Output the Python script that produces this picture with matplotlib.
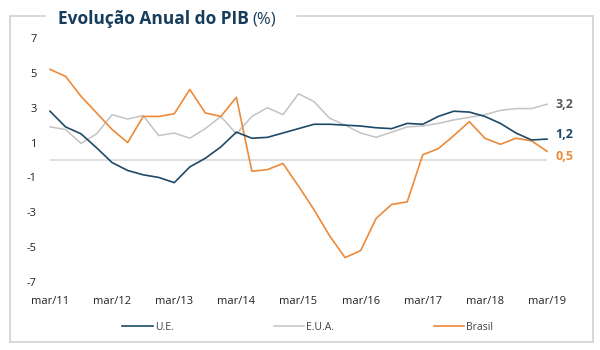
import numpy as np
import matplotlib.pyplot as plt
from matplotlib.lines import Line2D

# quarterly data, mar/11 .. mar/19 (33 quarters)
ue = [2.8, 1.9, 1.5, 0.7, -0.15, -0.6, -0.85, -1.0, -1.3, -0.4, 0.1, 0.75, 1.6,
      1.25, 1.3, 1.55, 1.8, 2.05, 2.05, 2.0, 1.95, 1.85, 1.8, 2.1, 2.05, 2.5,
      2.8, 2.75, 2.5, 2.1, 1.55, 1.15, 1.2]
eua = [1.9, 1.75, 0.95, 1.5, 2.6, 2.35, 2.55, 1.4, 1.55, 1.25, 1.8, 2.5, 1.5,
       2.5, 3.0, 2.6, 3.8, 3.35, 2.4, 2.0, 1.55, 1.3, 1.6, 1.9, 1.95, 2.1,
       2.3, 2.45, 2.6, 2.85, 2.95, 2.95, 3.2]
brasil = [5.2, 4.8, 3.65, 2.7, 1.75, 1.0, 2.5, 2.5, 2.65, 4.05, 2.7, 2.5, 3.6,
          -0.65, -0.55, -0.2, -1.5, -2.85, -4.35, -5.6, -5.2, -3.35, -2.55, -2.4,
          0.3, 0.65, 1.4, 2.2, 1.25, 0.9, 1.25, 1.1, 0.5]
year_labels = ["mar/11", "mar/12", "mar/13", "mar/14", "mar/15",
               "mar/16", "mar/17", "mar/18", "mar/19"]
y_ticks = [7, 5, 3, 1, -1, -3, -5, -7]

c_ue = "#1d4a68"
c_eua = "#c3c3c3"
c_br = "#ec8a3a"

plt.rcParams['font.family'] = ['Open Sans', 'DejaVu Sans']

fig = plt.figure(figsize=(6, 3.5), dpi=100)
ax = fig.add_axes([0.073, 0.1943, 0.849, 0.6971])

q = np.arange(len(ue))
ax.hlines(0, q[0], q[-1], color="#d9d9d9", lw=1.2, zorder=1)
ax.plot(q, eua, color=c_eua, lw=1.1, label="E.U.A.", zorder=2)
ax.plot(q, brasil, color=c_br, lw=1.2, label="Brasil", zorder=3)
ax.plot(q, ue, color=c_ue, lw=1.2, label="U.E.", zorder=4)

ax.set_xlim(-0.4, q[-1] + 0.4)
ax.set_ylim(-7, 7)
ax.set_xticks(q[::4])
ax.set_xticklabels(year_labels)
ax.set_yticks(y_ticks)
ax.set_yticklabels([str(v) for v in y_ticks])
ax.tick_params(length=0, labelsize=8, colors="#222222")
ax.tick_params(axis="x", pad=10)
ax.tick_params(axis="y", pad=5)
for s in ax.spines.values():
    s.set_visible(False)

# end-of-line value labels
ends = [(eua[-1], "#595959", 0), (ue[-1], c_ue, 3), (brasil[-1], c_br, -4)]
for val, col, dy in ends:
    ax.annotate(f"{val:.1f}".replace(".", ","), xy=(q[-1], val),
                xytext=(6, dy), textcoords="offset points",
                color=col, fontsize=9, fontweight="bold", va="center")

# legend
h = ax.get_legend_handles_labels()[0]
handles = [h[2], h[0], h[1]]
fig.legend(handles, ["U.E.", "E.U.A.", "Brasil"], loc="center",
           bbox_to_anchor=(0.513, 0.065), ncol=3, frameon=False,
           handlelength=2.9, handletextpad=0.2, columnspacing=9.6,
           prop={"family": ["Liberation Sans Narrow", "Open Sans"], "size": 7.5},
           labelcolor="#404040")

# outer frame with a gap for the title
fc = "#d6d6d6"
W, H = 600.0, 350.0
segs = [((10, 45), (16, 16)), ((297, 593), (16, 16)), ((593, 593), (16, 342)),
        ((10, 593), (342, 342)), ((10, 10), (16, 342))]
for xs, ys in segs:
    fig.add_artist(Line2D([x / W for x in xs], [1 - y / H for y in ys],
                          color=fc, lw=1.3))

t = fig.text(58 / W, 1 - 24 / H, "Evolução Anual do PIB", fontsize=12.5,
             fontweight="bold", color="#163c5c", va="baseline")
fig.canvas.draw()
bb = t.get_window_extent()
fig.text(bb.x1 / W + 0.006, 1 - 24 / H, "(%)", fontsize=12, color="#163c5c",
         va="baseline")

fig.savefig("out.png", dpi=100)
